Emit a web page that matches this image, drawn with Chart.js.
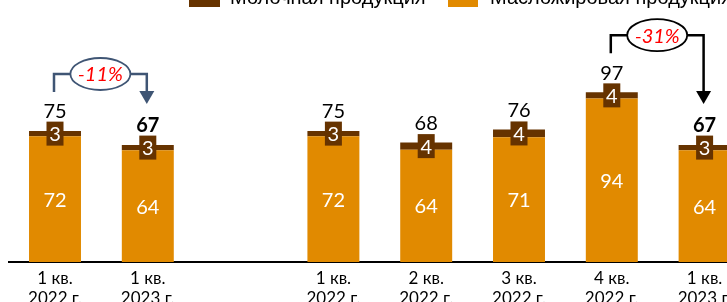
<!DOCTYPE html>
<html>
<head>
<meta charset="utf-8">
<script src="https://cdn.jsdelivr.net/npm/chart.js@4.4.0/dist/chart.umd.min.js"></script>
<style>
  html, body { margin: 0; padding: 0; background: #fff; overflow: hidden; }
  #wrap { position: relative; width: 751px; height: 302px; }
</style>
</head>
<body>
<div id="wrap"><canvas id="chart"></canvas></div>
<script>
// data
const categories = [['1 кв.', '2022 г.'], ['1 кв.', '2023 г.'], '', ['1 кв.', '2022 г.'], ['2 кв.', '2022 г.'], ['3 кв.', '2022 г.'], ['4 кв.', '2022 г.'], ['1 кв.', '2023 г.']];
const fatOil = [72, 64, null, 72, 64.3, 71.4, 93.6, 64];
const dairy = [3, 3, null, 3, 4.1, 4.4, 3.6, 3];
const boldTotals = [1, 7];
const seriesNames = ['Молочная продукция', 'Масложировая продукция'];
const changes = [
  { from: 0, to: 1, text: '-11%' },
  { from: 6, to: 7, text: '-31%' }
];

const ORANGE = '#E18A00';
const BROWN = '#663300';
const bracketColors = ['#3F5574', '#000000'];

function drawChange(ctx, xs, ys, ch, color) {
  const x1 = xs.getPixelForValue(ch.from) - 1;
  const x2 = xs.getPixelForValue(ch.to) - 1;
  const t1 = ys.getPixelForValue(fatOil[ch.from] + dairy[ch.from]);
  const t2 = ys.getPixelForValue(fatOil[ch.to] + dairy[ch.to]);
  const level = Math.min(t1, t2) - 57;
  const cx = (x1 + x2) / 2;
  const rx = 30, ry = 16;
  const tip = t2 - 41;

  ctx.strokeStyle = color;
  ctx.fillStyle = color;
  ctx.lineWidth = 2.5;
  ctx.beginPath();
  ctx.moveTo(x1, t1 - 39);
  ctx.lineTo(x1, level);
  ctx.lineTo(cx - rx, level);
  ctx.moveTo(cx + rx, level);
  ctx.lineTo(x2, level);
  ctx.lineTo(x2, tip - 12);
  ctx.stroke();

  ctx.beginPath();
  ctx.moveTo(x2 - 7.5, tip - 13);
  ctx.lineTo(x2 + 7.5, tip - 13);
  ctx.lineTo(x2, tip);
  ctx.closePath();
  ctx.fill();

  ctx.beginPath();
  ctx.ellipse(cx, level, rx, ry, 0, 0, Math.PI * 2);
  ctx.fillStyle = '#fff';
  ctx.fill();
  ctx.lineWidth = 1.8;
  ctx.stroke();

  ctx.fillStyle = '#FF0000';
  ctx.font = 'italic 20px Lato';
  ctx.textAlign = 'center';
  ctx.textBaseline = 'middle';
  ctx.fillText(ch.text, cx, level + 1);
}

const labelsPlugin = {
  id: 'labels',
  afterDatasetsDraw(chart) {
    const ctx = chart.ctx;
    const xs = chart.scales.x, ys = chart.scales.y;
    const base = ys.getPixelForValue(0);
    ctx.save();
    ctx.textAlign = 'center';
    ctx.textBaseline = 'middle';
    categories.forEach((c, i) => {
      if (fatOil[i] == null) return;
      const x = xs.getPixelForValue(i);
      const yo = ys.getPixelForValue(fatOil[i]);
      const total = fatOil[i] + dairy[i];
      const yt = ys.getPixelForValue(total);

      ctx.font = '20px Lato';
      ctx.fillStyle = '#fff';
      ctx.fillText(Math.round(fatOil[i]), x, (base + yo) / 2 + 1);

      const yd = (yo + yt) / 2;
      ctx.fillStyle = BROWN;
      ctx.fillRect(x - 8.5, yd - 12, 17, 24);
      ctx.fillStyle = '#fff';
      ctx.fillText(Math.round(dairy[i]), x, yd + 1);

      ctx.fillStyle = '#000';
      ctx.font = (boldTotals.includes(i) ? 'bold ' : '') + '20px Lato';
      ctx.fillText(Math.round(total), x, yt - 19);
    });
    changes.forEach((ch, k) => drawChange(ctx, xs, ys, ch, bracketColors[k]));
    ctx.restore();
  },
  afterDraw(chart) {
    // legend, partly cut off at the top edge
    const ctx = chart.ctx;
    ctx.save();
    ctx.fillStyle = BROWN;
    ctx.fillRect(189, -8, 31, 15);
    ctx.fillStyle = ORANGE;
    ctx.fillRect(448, -8, 30, 15);
    ctx.fillStyle = '#000';
    ctx.font = '20px "Liberation Sans"';
    ctx.textAlign = 'left';
    ctx.textBaseline = 'alphabetic';
    ctx.fillText(seriesNames[0], 230, 3.5);
    ctx.fillText(seriesNames[1], 490, 3.5);
    ctx.restore();
  }
};

new Chart(document.getElementById('chart'), {
  type: 'bar',
  data: {
    labels: categories,
    datasets: [
      { label: seriesNames[1], data: fatOil, backgroundColor: ORANGE },
      { label: seriesNames[0], data: dairy, backgroundColor: BROWN }
    ]
  },
  options: {
    responsive: true,
    maintainAspectRatio: false,
    animation: false,
    layout: { padding: { left: 8.6, right: 0, top: 0, bottom: 0 } },
    datasets: { bar: { categoryPercentage: 1, barPercentage: 0.56 } },
    plugins: { legend: { display: false }, tooltip: { enabled: false } },
    scales: {
      x: {
        stacked: true,
        grid: { display: false, drawTicks: false },
        border: { color: '#000', width: 2 },
        ticks: { color: '#000', font: { family: 'Lato', size: 17, lineHeight: 1.2 }, padding: 6, maxRotation: 0, autoSkip: false },
        afterFit: s => { s.height = 40; }
      },
      y: { stacked: true, display: false, min: 0, max: 150 }
    }
  },
  plugins: [labelsPlugin]
});
</script>
</body>
</html>
